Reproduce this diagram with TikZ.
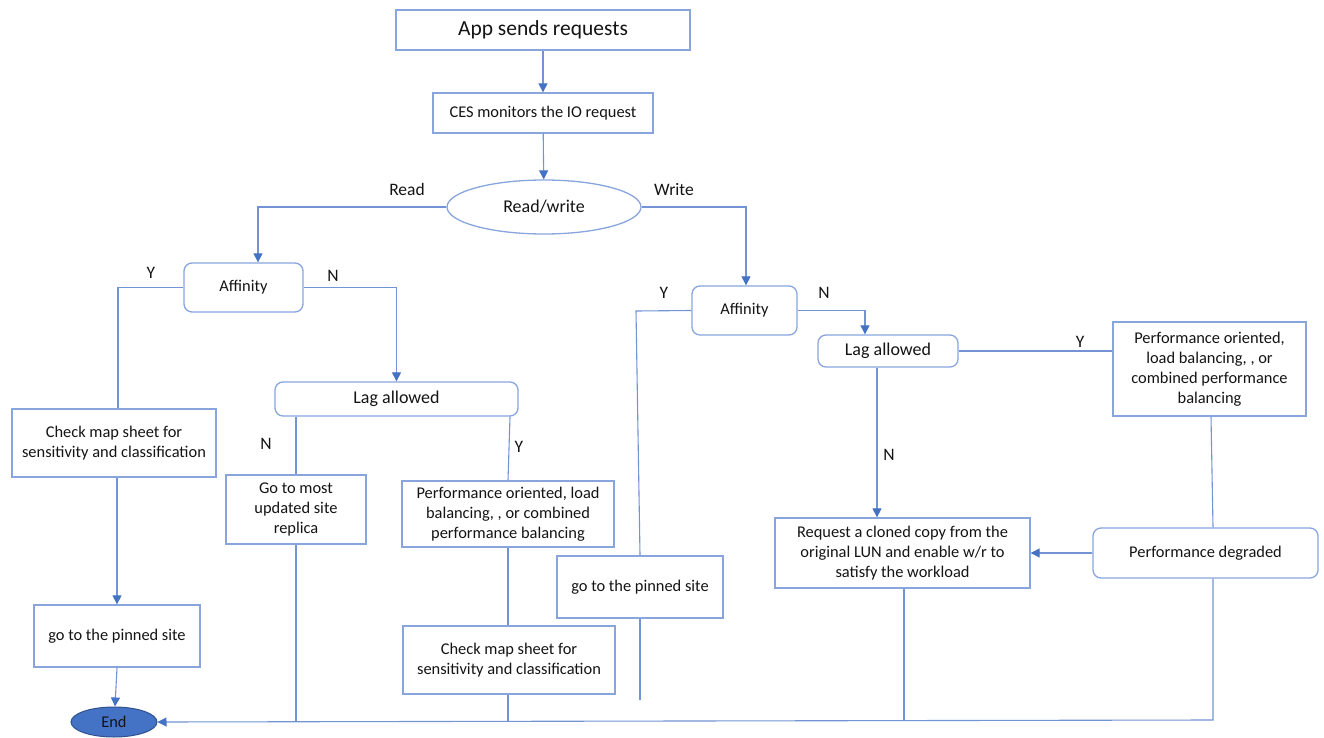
\documentclass[tikz,border=0pt]{standalone}
\usepackage{fontspec}
\setmainfont{Carlito}
\usetikzlibrary{arrows.meta,shapes.geometric,calc}
\definecolor{linec}{RGB}{114,148,212}
\definecolor{boxc}{RGB}{136,165,222}
\definecolor{tipc}{RGB}{68,114,196}
\definecolor{endfill}{RGB}{68,114,196}
\definecolor{endline}{RGB}{47,82,143}
\definecolor{txt}{RGB}{20,20,20}
\tikzset{
  every node/.style={text=txt, font=\fontsize{16.4}{20}\selectfont, inner sep=0pt, align=center},
  stepbox/.style={draw=boxc, line width=1.3pt, rectangle},
  roundbox/.style={draw=boxc, line width=1.3pt, rectangle, rounded corners=8pt},
  conn/.style={draw=linec, line width=1.1pt},
  arr/.style={conn, -{Triangle[length=9pt,width=9pt,color=tipc]}},
  lbl/.style={font=\fontsize{17.5}{20}\selectfont},
}
\begin{document}
\begin{tikzpicture}[x=1pt,y=-1pt]
\useasboundingbox (0,0) rectangle (1324,738);
\fill[white] (0,0) rectangle (1324,738);

% top of the flow
\node[stepbox, minimum width=294, minimum height=40, font=\fontsize{21.5}{24}\selectfont] (app) at (543,30) {App sends requests};
\node[stepbox, minimum width=220, minimum height=40] (ces) at (543,113) {CES monitors the IO request};
\node[ellipse, draw=boxc, line width=1.3pt, minimum width=194, minimum height=54, font=\fontsize{18}{20}\selectfont] (rw) at (544,207) {Read/write};

% read branch
\node[roundbox, minimum width=119, minimum height=49] (affL) at (243.5,287.5) {Affinity};
\node[roundbox, minimum width=243, minimum height=34, font=\fontsize{18}{20}\selectfont] (lagL) at (396.5,399) {Lag allowed};
\node[stepbox, minimum width=204, minimum height=68] (chkL) at (114,443) {Check map sheet for\\sensitivity and classification};
\node[stepbox, minimum width=166, minimum height=62] (pinL) at (117,636) {go to the pinned site};
\node[ellipse, draw=endline, fill=endfill, line width=1pt, minimum width=86, minimum height=30] (endN) at (114,722) {End};
\node[stepbox, minimum width=140, minimum height=69] (goMost) at (296,509.5) {Go to most\\updated site\\replica};
\node[stepbox, minimum width=212, minimum height=66] (perfL) at (508,514) {Performance oriented, load\\balancing, , or combined\\performance balancing};
\node[stepbox, minimum width=212, minimum height=68] (chkM) at (509,660) {Check map sheet for\\sensitivity and classification};

% write branch
\node[roundbox, minimum width=105, minimum height=49] (affR) at (744.5,310.5) {Affinity};
\node[stepbox, minimum width=166, minimum height=62] (pinM) at (640,587) {go to the pinned site};
\node[roundbox, minimum width=140, minimum height=32, font=\fontsize{18}{20}\selectfont] (lagR) at (888,351) {Lag allowed};
\node[stepbox, minimum width=193, minimum height=94] (perfR) at (1209.5,369) {Performance oriented,\\load balancing, , or\\combined performance\\balancing};
\node[roundbox, minimum width=225, minimum height=50] (degr) at (1205.5,553) {Performance degraded};
\node[stepbox, minimum width=255, minimum height=70] (req) at (902.5,553) {Request a cloned copy from the\\original LUN and enable w/r to\\satisfy the workload};

% labels
\node[lbl] (tRead) at (407,189) {Read};
\node[lbl] (tWrite) at (674,190) {Write};
\node[lbl] (tY1) at (151,273) {Y};
\node[lbl] (tN1) at (333,276) {N};
\node[lbl] (tN2) at (266,444) {N};
\node[lbl] (tY2) at (519,447) {Y};
\node[lbl] (tY3) at (664,293) {Y};
\node[lbl] (tN3) at (824,293) {N};
\node[lbl] (tY4) at (1080,342) {Y};
\node[lbl] (tN4) at (889,455) {N};

% helper points
\coordinate (kY) at (636,311);
\coordinate (pinStop) at (640,700);
\coordinate (busR) at (1213,720);

% connectors
\draw[arr] (app) -- (ces);
\draw[arr] (ces) -- (rw);
\draw[arr] (rw.west) -| ([xshift=14.5]affL.north);
\draw[arr] (rw.east) -| ([xshift=1.5]affR.north);
\draw[conn] (affL.west) -| ([xshift=4]chkL.north);
\draw[arr] (affL.east) -| (lagL.north);
\draw[arr] ([xshift=3]chkL.south) -- (pinL.north);
\draw[arr] (pinL.south) -- ([xshift=1]endN.north);
\draw[conn] (goMost.north |- lagL.south) -- (goMost.north);
\draw[conn] ([xshift=113.5]lagL.south) -- (perfL.north);
\draw[conn] (perfL.south) -- ([xshift=-1]chkM.north);
\draw[conn] (affR.west) -- (kY) -- (pinM.north);
\draw[conn] (pinM.south) -- (pinStop);
\draw[arr] (affR.east) -| ([xshift=-23]lagR.north);
\draw[conn] (lagR.east) -- (lagR.east -| perfR.west);
\draw[arr] ([xshift=-11]lagR.south) -- ([xshift=-11]lagR.south |- req.north);
\draw[conn] ([xshift=1.5]perfR.south) -- ([xshift=7.5]degr.north);
\draw[arr] (degr.west) -- (req.east);

% return line into End
\draw[arr] ([xshift=7.5]degr.south) -- (busR) -- (endN.east);
\draw[conn] (goMost.south) -- ([yshift=1]goMost.south |- endN.east);
\draw[conn] ([xshift=-1]chkM.south) -- ([xshift=-1,yshift=1.3]chkM.south |- endN.east);
\draw[conn] ([xshift=1.5]req.south) -- ([xshift=1.5,yshift=2.5]req.south |- endN.east);
\end{tikzpicture}
\end{document}
